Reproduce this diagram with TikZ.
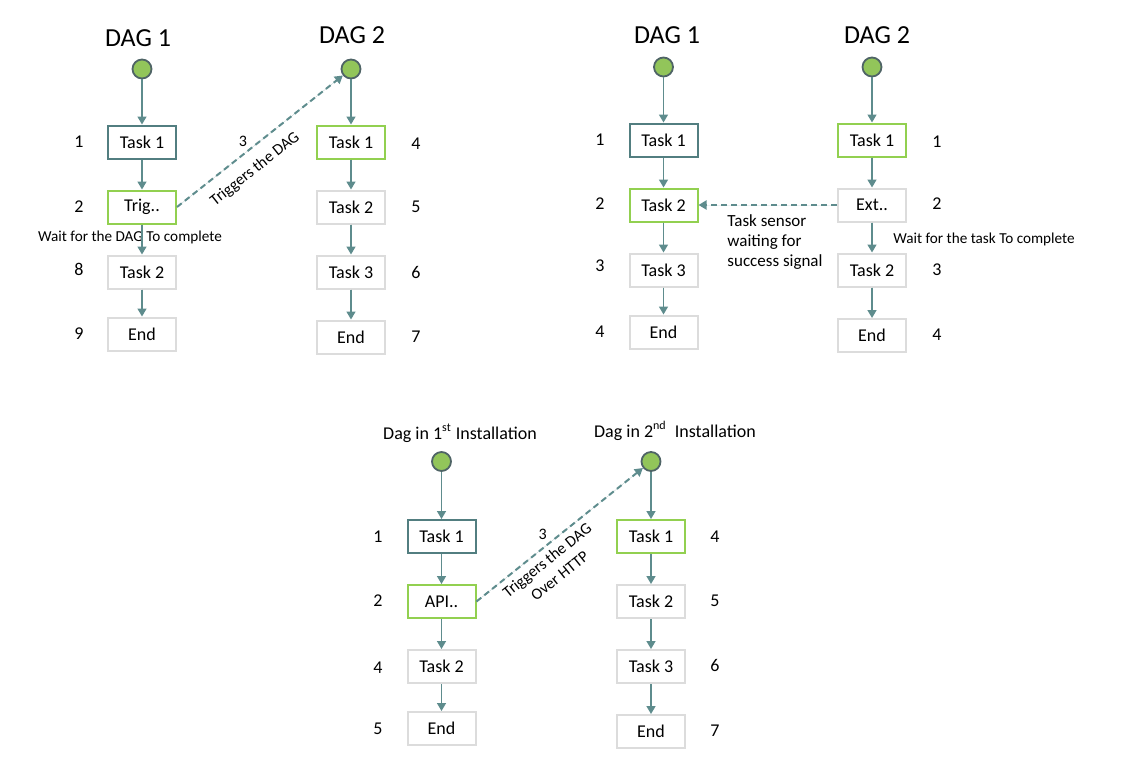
\documentclass[tikz,border=0pt]{standalone}
\usepackage{fontspec}
\setmainfont{Carlito}
\usetikzlibrary{arrows.meta}
\definecolor{lien}{HTML}{5E8C8D}
\definecolor{sarcelle}{HTML}{527E80}
\definecolor{vertclair}{HTML}{92D050}
\definecolor{vertrond}{HTML}{92C55A}
\definecolor{bordrond}{HTML}{4F6466}
\definecolor{grisclair}{HTML}{DCDCDC}
\begin{document}
\begin{tikzpicture}[x=0.5pt,y=-0.5pt]
% Styles
\tikzstyle{fleche}=[->,>={Triangle[length=4pt,width=4.5pt]},line width=0.75pt,draw=lien,fill=lien]
\tikzstyle{pointille}=[fleche,line width=1pt,dash pattern=on 3pt off 2pt]
\tikzstyle{depart}=[circle,draw=bordrond,fill=vertrond,line width=0.9pt,minimum size=9.5pt,inner sep=0pt]
\tikzstyle{tache}=[draw=grisclair,line width=1pt,minimum width=34pt,minimum height=16.5pt,inner sep=0pt,font=\fontsize{9}{11}\selectfont]
\tikzstyle{tacheA}=[tache,draw=sarcelle]
\tikzstyle{tacheV}=[tache,draw=vertclair]
\tikzstyle{numero}=[font=\fontsize{9}{11}\selectfont]
\tikzstyle{titre}=[font=\fontsize{13}{15}\selectfont]
\tikzstyle{soustitre}=[font=\fontsize{9}{11}\selectfont]
\tikzstyle{etiquette}=[font=\fontsize{8}{10}\selectfont,inner sep=1pt]
\tikzstyle{note}=[font=\fontsize{7.6}{9}\selectfont]
% Cadre
\useasboundingbox (0,0) rectangle (1138,777);
% Colonnes
\def\ColA{142}\def\ColB{351}\def\NumA{79}\def\NumB{416}
\def\ColC{663.5}\def\ColD{872}\def\NumC{600}\def\NumD{937}
\def\ColE{441.5}\def\ColF{651}\def\NumE{378}\def\NumF{715}
% Lignes
\def\LigRond{69}
\def\LigUn{142}
\def\LigDeux{207}
\def\LigTrois{272}
\def\LigQuatre{334}
\def\DecalC{394.5}
% Panneau 1 : noeuds
\node[titre] (TitreA) at (138,38) {DAG 1};
\node[titre] (TitreB) at (352,35) {DAG 2};
\node[depart] (DebA) at ({\ColA},{\LigRond}) {};
\node[tacheA] (A1) at ({\ColA},{\LigUn}) {Task 1};
\node[tacheV] (A2) at ({\ColA},{\LigDeux}) {Trig..};
\node[tache] (A3) at ({\ColA},{\LigTrois}) {Task 2};
\node[tache] (A4) at ({\ColA},{\LigQuatre}) {End};
\node[numero] (nA1) at ({\NumA},{\LigUn}) {1};
\node[numero] (nA2) at ({\NumA},{\LigDeux}) {2};
\node[numero] (nA3) at ({\NumA},{\LigTrois-3}) {8};
\node[numero] (nA4) at ({\NumA},{\LigQuatre}) {9};
\node[depart] (DebB) at ({\ColB},{\LigRond}) {};
\node[tacheV] (B1) at ({\ColB},{\LigUn}) {Task 1};
\node[tache] (B2) at ({\ColB},{\LigDeux}) {Task 2};
\node[tache] (B3) at ({\ColB},{\LigTrois}) {Task 3};
\node[tache] (B4) at ({\ColB},{\LigQuatre+3}) {End};
\node[numero] (nB1) at ({\NumB},{\LigUn+2}) {4};
\node[numero] (nB2) at ({\NumB},{\LigDeux}) {5};
\node[numero] (nB3) at ({\NumB},{\LigTrois}) {6};
\node[numero] (nB4) at ({\NumB},{\LigQuatre+3}) {7};
\node[note] (AttA) at (130,237.5) {Wait for the DAG To complete};
% Panneau 1 : arcs
\draw[fleche] (DebA)--(A1);
\draw[fleche] (A1)--(A2);
\draw[fleche] (A2)--(A3);
\draw[fleche] (A3)--(A4);
\draw[fleche] (DebB)--(B1);
\draw[fleche] (B1)--(B2);
\draw[fleche] (B2)--(B3);
\draw[fleche] (B3)--(B4);
\draw[pointille] (A2.east)--(DebB)
  node[etiquette,pos=0.44,anchor=south east] (TrigA) {3}
  node[etiquette,pos=0.40,sloped,below=4.5pt] (TrigTxtA) {Triggers the DAG};
% Panneau 2 : noeuds
\node[titre] (TitreC) at (667,35) {DAG 1};
\node[titre] (TitreD) at (877,35) {DAG 2};
\node[depart] (DebC) at ({\ColC},{\LigRond-2}) {};
\node[tacheA] (C1) at ({\ColC},{\LigUn-2}) {Task 1};
\node[tacheV] (C2) at ({\ColC},{\LigDeux-2}) {Task 2};
\node[tache] (C3) at ({\ColC},{\LigTrois-2}) {Task 3};
\node[tache] (C4) at ({\ColC},{\LigQuatre-2}) {End};
\node[numero] (nC1) at ({\NumC},{\LigUn-2}) {1};
\node[numero] (nC2) at ({\NumC},{\LigDeux-3}) {2};
\node[numero] (nC3) at ({\NumC},{\LigTrois-6}) {3};
\node[numero] (nC4) at ({\NumC},{\LigQuatre-2}) {4};
\node[depart] (DebD) at ({\ColD},{\LigRond-2}) {};
\node[tacheV] (D1) at ({\ColD},{\LigUn-2}) {Task 1};
\node[tache] (D2) at ({\ColD},{\LigDeux-2}) {Ext..};
\node[tache] (D3) at ({\ColD},{\LigTrois-2}) {Task 2};
\node[tache] (D4) at ({\ColD},{\LigQuatre+1.5}) {End};
\node[numero] (nD1) at ({\NumD},{\LigUn}) {1};
\node[numero] (nD2) at ({\NumD},{\LigDeux-3}) {2};
\node[numero] (nD3) at ({\NumD},{\LigTrois-2}) {3};
\node[numero] (nD4) at ({\NumD},{\LigQuatre+1}) {4};
\node[etiquette,align=left,font=\fontsize{8.5}{10}\selectfont] (Capteur) at (775,241.7) {Task sensor\\waiting for\\success signal};
\node[note] (AttD) at (984,239.5) {Wait for the task To complete};
% Panneau 2 : arcs
\draw[fleche] (DebC)--(C1);
\draw[fleche] (C1)--(C2);
\draw[fleche] (C2)--(C3);
\draw[fleche] (C3)--(C4);
\draw[fleche] (DebD)--(D1);
\draw[fleche] (D1)--(D2);
\draw[fleche] (D2)--(D3);
\draw[fleche] (D3)--(D4);
\draw[pointille] (D2)--(C2);
% Panneau 3 : noeuds
\node[soustitre] (TitreE) at (460,433) {Dag in 1\textsuperscript{st} Installation};
\node[soustitre] (TitreF) at (675,431) {Dag in 2\textsuperscript{nd}\ \ Installation};
\node[depart] (DebE) at ({\ColE},{\LigRond+\DecalC-2}) {};
\node[tacheA] (E1) at ({\ColE},{\LigUn+\DecalC}) {Task 1};
\node[tacheV] (E2) at ({\ColE},{\LigDeux+\DecalC}) {API..};
\node[tache] (E3) at ({\ColE},{\LigTrois+\DecalC}) {Task 2};
\node[tache] (E4) at ({\ColE},{\LigQuatre+\DecalC}) {End};
\node[numero] (nE1) at ({\NumE},{\LigUn+\DecalC}) {1};
\node[numero] (nE2) at ({\NumE},{\LigDeux+\DecalC-1}) {2};
\node[numero] (nE3) at ({\NumE},{\LigTrois+\DecalC+1}) {4};
\node[numero] (nE4) at ({\NumE},{\LigQuatre+\DecalC}) {5};
\node[depart] (DebF) at ({\ColF},{\LigRond+\DecalC-2}) {};
\node[tacheV] (F1) at ({\ColF},{\LigUn+\DecalC}) {Task 1};
\node[tache] (F2) at ({\ColF},{\LigDeux+\DecalC}) {Task 2};
\node[tache] (F3) at ({\ColF},{\LigTrois+\DecalC}) {Task 3};
\node[tache] (F4) at ({\ColF},{\LigQuatre+\DecalC+3}) {End};
\node[numero] (nF1) at ({\NumF},{\LigUn+\DecalC}) {4};
\node[numero] (nF2) at ({\NumF},{\LigDeux+\DecalC-1}) {5};
\node[numero] (nF3) at ({\NumF},{\LigTrois+\DecalC-1}) {6};
\node[numero] (nF4) at ({\NumF},{\LigQuatre+\DecalC+2}) {7};
% Panneau 3 : arcs
\draw[fleche] (DebE)--(E1);
\draw[fleche] (E1)--(E2);
\draw[fleche] (E2)--(E3);
\draw[fleche] (E3)--(E4);
\draw[fleche] (DebF)--(F1);
\draw[fleche] (F1)--(F2);
\draw[fleche] (F2)--(F3);
\draw[fleche] (F3)--(F4);
\draw[pointille] (E2.east)--(DebF)
  node[etiquette,pos=0.44,anchor=south east] (TrigE) {3}
  node[etiquette,pos=0.38,sloped,below=1.5pt,align=center] (TrigTxtE) {Triggers the DAG\\Over HTTP};
\end{tikzpicture}
\end{document}
